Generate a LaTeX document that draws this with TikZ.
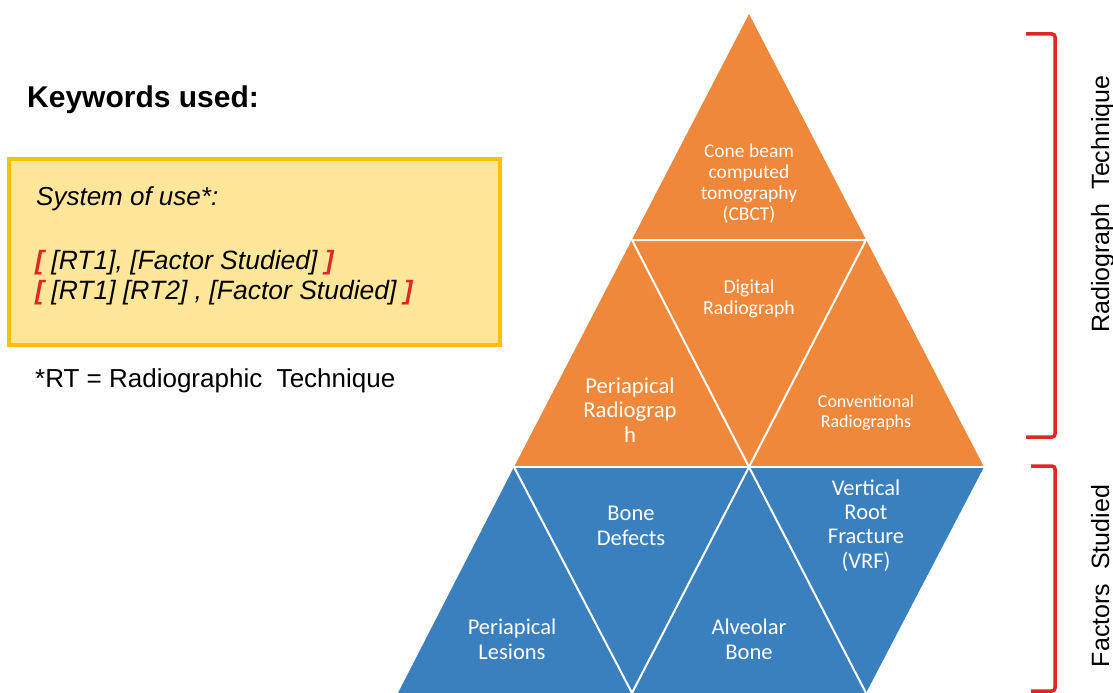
\documentclass[tikz,border=0pt]{standalone}
\usepackage{fontspec}
\setmainfont{Liberation Sans}
\newfontfamily\calib{Carlito}
\definecolor{orng}{RGB}{239,136,59}
\definecolor{blu}{RGB}{58,128,190}
\definecolor{boxfill}{RGB}{255,230,153}
\definecolor{boxline}{RGB}{255,192,0}
\definecolor{brk}{RGB}{226,38,36}
\newcommand{\fs}[2]{\fontsize{#1bp}{#2bp}\selectfont}
\newcommand{\rb}[1]{\textcolor{brk}{\bfseries\itshape #1}}
\begin{document}
\begin{tikzpicture}[x=1bp,y=-1bp,
  seg/.style={draw=white, line width=2bp, line join=round},
  lbl/.style={text=white, align=center, inner sep=0pt, anchor=base},
  brack/.style={draw=brk, line width=3.5bp, rounded corners=3bp},
  plain/.style={inner sep=0pt, anchor=base west, text=black},
  side/.style={inner sep=0pt, rotate=90, text=black, font=\fs{25}{28}}]
\useasboundingbox (0,0) rectangle (1113,693);
% orange pyramid
\fill[orng] (749,14) -- (514,467) -- (984,467) -- cycle;
% blue parallelogram
\fill[blu] (514,467) -- (984,467) -- (866,693) -- (398,693) -- cycle;
% white separators
\draw[seg] (632,240) -- (866,240) -- (749,467) -- cycle;
\draw[seg] (514,467) -- (984,467);
\draw[seg] (514,467) -- (632,693) -- (749,467) -- (866,693);
% orange labels (anchor = baseline of last line)
\node[lbl, font=\calib\fs{19.5}{21}] (cbct) at (749,221) {Cone beam\\computed\\tomography\\(CBCT)};
\node[lbl, font=\calib\fs{19.8}{21}] (digi) at (749,314) {Digital\\Radiograph};
\node[lbl, font=\calib\fs{22.7}{24.5}] (peri) at (630,442) {Periapical\\Radiograp\\h};
\node[lbl, font=\calib\fs{18}{20}] (conv) at (866,427) {Conventional\\Radiographs};
% blue labels
\node[lbl, font=\calib\fs{22.5}{24.3}] (bone) at (631,545) {Bone\\Defects};
\node[lbl, font=\calib\fs{22.5}{24.3}] (vrf) at (866,568) {Vertical\\Root\\Fracture\\(VRF)};
\node[lbl, font=\calib\fs{22.5}{24.3}] (les) at (512,659) {Periapical\\Lesions};
\node[lbl, font=\calib\fs{22.5}{24.3}] (alv) at (749,659) {Alveolar\\Bone};
% left panel
\node[plain, font=\bfseries\fs{30}{32}] (kw) at (27,108) {Keywords used:};
\draw[fill=boxfill, draw=boxline, line width=4bp] (9,159) rectangle (500,345);
\node[plain, font=\itshape\fs{26}{30}] (sys) at (36,206) {System of use*:};
\node[plain, font=\itshape\fs{26.5}{30}] (l1) at (35,269) {\rb{[} [RT1], [Factor Studied] \rb{]}};
\node[plain, font=\itshape\fs{26.5}{30}] (l2) at (35,299) {\rb{[} [RT1] [RT2] , [Factor Studied] \rb{]}};
\node[plain, font=\fs{26}{30}] (rt) at (35,387) {*RT = Radiographic\ \ Technique};
% brackets
\draw[brack] (1026,34) -- (1055,34) -- (1055,437) -- (1026,437);
\draw[brack] (1031,466) -- (1055,466) -- (1055,691) -- (1031,691);
\node[side, anchor=base] (rtl) at (1109,204) {Radiograph\ \ Technique};
\node[side, anchor=base] (fsl) at (1109,576) {Factors\ \ Studied};
\end{tikzpicture}
\end{document}
